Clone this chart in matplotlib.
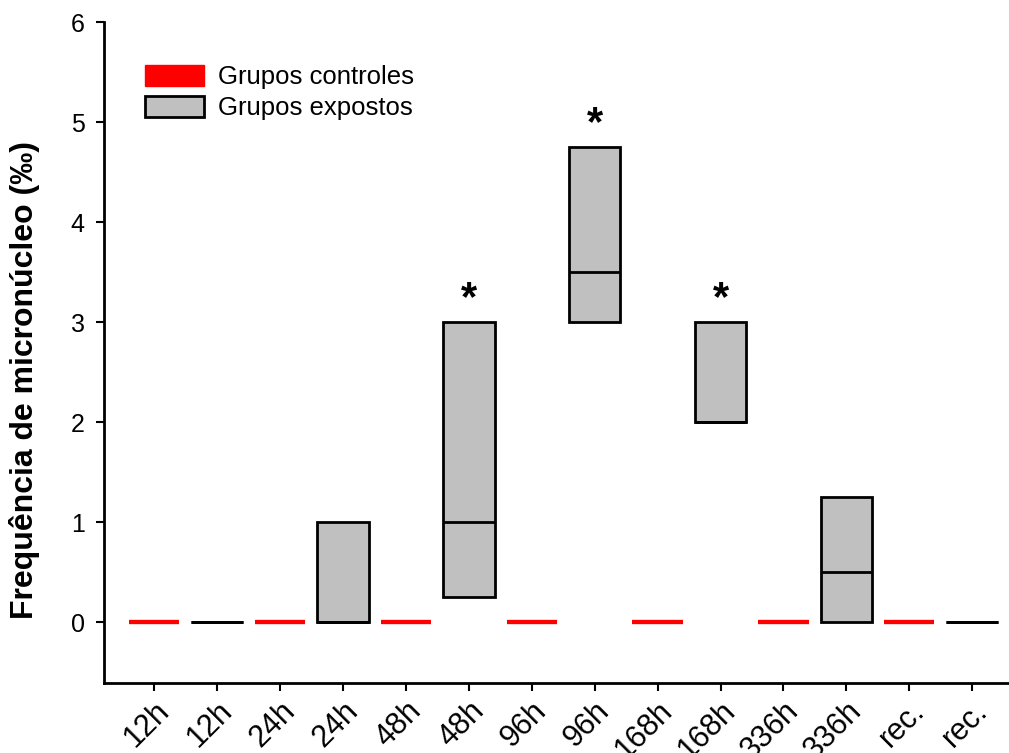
import matplotlib.pyplot as plt
from matplotlib.patches import Patch

plt.rcParams['font.family'] = ['Liberation Sans', 'DejaVu Sans']

# group labels (control / exposed alternating)
labels = ["12h", "12h", "24h", "24h", "48h", "48h", "96h", "96h",
          "168h", "168h", "336h", "336h", "rec.", "rec."]
times = ["12h", "24h", "48h", "96h", "168h", "336h", "rec."]

# exposed groups: quartiles and median
exp_q1 = [0, 0, 0.25, 3.0, 2.0, 0, 0]
exp_med = [0, 0, 1.0, 3.5, 2.0, 0.5, 0]
exp_q3 = [0, 1.0, 3.0, 4.75, 3.0, 1.25, 0]
# control groups all at zero
ctrl_q1 = [0, 0, 0, 0, 0, 0, 0]
ctrl_med = [0, 0, 0, 0, 0, 0, 0]
ctrl_q3 = [0, 0, 0, 0, 0, 0, 0]
# significance markers
signif = [False, False, True, True, True, False, False]


def make_stats(q1, med, q3):
    return [dict(med=m, q1=a, q3=b, whislo=a, whishi=b, fliers=[])
            for a, m, b in zip(q1, med, q3)]


fig = plt.figure(figsize=(10.09, 7.53), dpi=100)
ax = fig.add_axes([104 / 1009, 70 / 753, 904 / 1009, 661 / 753])

ctrl_pos = [1 + 2 * i for i in range(len(times))]
exp_pos = [2 + 2 * i for i in range(len(times))]

ax.bxp(make_stats(ctrl_q1, ctrl_med, ctrl_q3), positions=ctrl_pos, widths=0.8,
       showcaps=False, patch_artist=True,
       boxprops=dict(facecolor='red', edgecolor='red', linewidth=3),
       medianprops=dict(color='red', linewidth=3),
       whiskerprops=dict(color='red', linewidth=3))
ax.bxp(make_stats(exp_q1, exp_med, exp_q3), positions=exp_pos, widths=0.82,
       showcaps=False, patch_artist=True,
       boxprops=dict(facecolor='#c0c0c0', edgecolor='black', linewidth=2),
       medianprops=dict(color='black', linewidth=2),
       whiskerprops=dict(color='black', linewidth=2))

for p, top, s in zip(exp_pos, exp_q3, signif):
    if s:
        ax.text(p, top + 0.03, "*", ha='center', va='bottom',
                fontsize=30, fontweight='bold')

ax.set_xlim(0.2, 14.57)
ax.set_ylim(-0.61, 6)
ax.set_xticks(range(1, len(labels) + 1))
ax.set_xticklabels(labels, rotation=45, ha='right', rotation_mode='anchor',
                   fontsize=22)
ax.set_yticks(range(0, 7))
ax.tick_params(axis='y', labelsize=18, length=6, width=1.5, direction='out',
               pad=8)
ax.tick_params(axis='x', length=6, width=1.5, direction='out', pad=3)
for side in ['top', 'right']:
    ax.spines[side].set_visible(False)
for side in ['left', 'bottom']:
    ax.spines[side].set_linewidth(2)

ax.set_ylabel("Frequência de micronúcleo (‰)", fontsize=23, fontweight='bold')
ax.yaxis.set_label_coords(-0.071, 0.458)

handles = [Patch(facecolor='red', edgecolor='red', label='Grupos controles'),
           Patch(facecolor='#c0c0c0', edgecolor='black', linewidth=2,
                 label='Grupos expostos')]
ax.legend(handles=handles, loc='upper left', bbox_to_anchor=(0.02, 0.97),
          frameon=False, fontsize=18.5, handlelength=2.3, handleheight=0.9,
          labelspacing=0.25, handletextpad=0.55)

fig.savefig("out.png", dpi=100)
